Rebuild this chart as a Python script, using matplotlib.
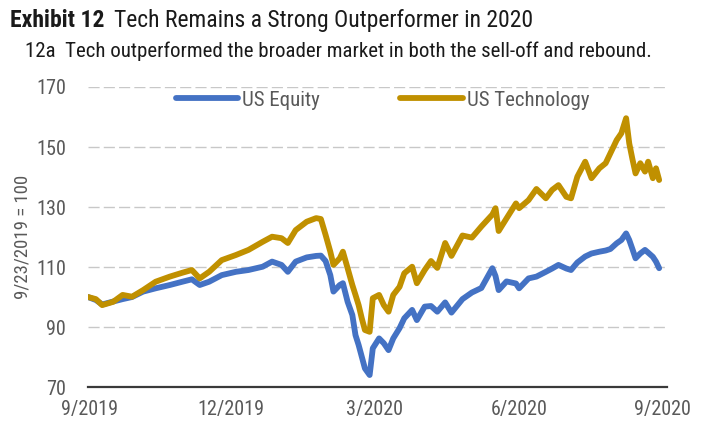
import matplotlib
matplotlib.use("Agg")
import matplotlib.pyplot as plt
import pandas as pd
from matplotlib import font_manager as fm

# ---------------- data ----------------
dates = [
    "2019-09-23", "2019-09-28", "2019-10-02", "2019-10-09", "2019-10-15", "2019-10-21",
    "2019-10-28", "2019-11-05", "2019-11-14", "2019-11-22", "2019-11-28", "2019-12-03",
    "2019-12-09", "2019-12-17", "2019-12-26", "2020-01-03", "2020-01-12", "2020-01-18",
    "2020-01-24", "2020-01-28", "2020-02-02", "2020-02-09", "2020-02-15", "2020-02-18",
    "2020-02-21", "2020-02-24", "2020-02-26", "2020-03-01", "2020-03-03", "2020-03-06",
    "2020-03-09", "2020-03-11", "2020-03-13", "2020-03-15", "2020-03-17", "2020-03-20",
    "2020-03-22", "2020-03-26", "2020-03-29", "2020-04-01", "2020-04-04", "2020-04-08",
    "2020-04-11", "2020-04-16", "2020-04-19", "2020-04-24", "2020-04-28", "2020-05-02",
    "2020-05-07", "2020-05-11", "2020-05-18", "2020-05-24", "2020-05-30", "2020-06-06",
    "2020-06-08", "2020-06-10", "2020-06-15", "2020-06-21", "2020-06-23", "2020-06-29",
    "2020-07-04", "2020-07-10", "2020-07-14", "2020-07-18", "2020-07-23", "2020-07-26",
    "2020-07-30", "2020-08-04", "2020-08-08", "2020-08-13", "2020-08-17", "2020-08-20",
    "2020-08-24", "2020-08-27", "2020-08-30", "2020-09-01", "2020-09-03", "2020-09-05",
    "2020-09-08", "2020-09-11", "2020-09-13", "2020-09-16", "2020-09-18", "2020-09-20",
]
us_equity = [
    100.0, 99.0, 97.5, 98.5, 99.3, 100.0,
    101.8, 102.9, 104.0, 105.1, 105.9, 104.0,
    105.1, 107.3, 108.4, 109.0, 110.1, 111.8,
    110.7, 108.4, 111.8, 113.2, 113.7, 113.8,
    112.0, 107.3, 101.8, 104.0, 104.6, 98.4,
    94.0, 87.3, 84.0, 80.1, 76.2, 74.0,
    82.9, 86.2, 84.6, 82.3, 86.2, 89.6,
    92.9, 95.7, 92.3, 96.8, 97.0, 95.1,
    98.2, 94.8, 99.3, 101.5, 103.0, 109.6,
    107.0, 102.3, 105.2, 104.5, 102.9, 106.2,
    106.8, 108.4, 109.5, 110.7, 109.5, 109.0,
    111.5, 113.5, 114.5, 115.1, 115.5, 116.0,
    117.9, 119.0, 121.2, 119.0, 116.0, 112.9,
    114.5, 115.7, 114.8, 113.4, 111.8, 109.6,
]
us_technology = [
    100.0, 99.3, 97.3, 98.4, 100.7, 100.1,
    102.3, 105.1, 106.8, 108.1, 109.0, 106.2,
    108.4, 112.3, 114.0, 115.7, 118.4, 120.1,
    119.6, 118.0, 122.3, 125.1, 126.3, 126.0,
    120.7, 115.1, 110.7, 112.9, 115.1, 109.6,
    104.0, 100.7, 97.3, 92.9, 89.0, 88.4,
    99.6, 100.7, 97.3, 95.1, 100.7, 103.4,
    107.9, 110.1, 104.6, 109.0, 112.0, 109.7,
    118.0, 113.7, 120.5, 119.8, 123.5, 127.5,
    129.6, 122.0, 126.2, 131.2, 129.6, 132.3,
    136.0, 132.9, 135.7, 137.3, 133.4, 132.9,
    140.1, 145.1, 139.6, 142.9, 144.6, 147.9,
    152.3, 154.6, 159.6, 151.2, 146.0, 141.2,
    144.6, 141.8, 145.1, 139.6, 142.9, 139.0,
]
series_names = ["US Equity", "US Technology"]
x_tick_dates = ["2019-09-24", "2019-12-23", "2020-03-23", "2020-06-23", "2020-09-22"]
x_tick_labels = ["9/2019", "12/2019", "3/2020", "6/2020", "9/2020"]
y_ticks = [70, 90, 110, 130, 150, 170]

title_bold = "Exhibit 12"
title_rest = "Tech Remains a Strong Outperformer in 2020"
subtitle = "12a  Tech outperformed the broader market in both the sell-off and rebound."
y_label = "9/23/2019 = 100"

# ---------------- font choice ----------------
available = {f.name for f in fm.fontManager.ttflist}
font = "DejaVu Sans"
stretch = "normal"
for cand in ["Liberation Sans Narrow", "Arial Narrow", "Roboto Condensed",
             "Open Sans Condensed", "Noto Sans Display"]:
    if cand in available:
        font = cand
        break
else:
    if any(f.name == "DejaVu Sans" and f.stretch == "condensed" for f in fm.fontManager.ttflist):
        stretch = "condensed"
plt.rcParams["font.family"] = [font, "DejaVu Sans"]
plt.rcParams["font.stretch"] = stretch

BLUE = "#4472C4"
GOLD = "#C09000"
GREY = "#595959"

x = pd.to_datetime(dates)

fig = plt.figure(figsize=(7.19, 4.45), dpi=100)
ax = fig.add_axes([0.1224, 0.1303, 0.8053, 0.6742])

ax.plot(x, us_equity, color=BLUE, lw=4.2, solid_joinstyle="round",
        solid_capstyle="round", label=series_names[0], zorder=3)
ax.plot(x, us_technology, color=GOLD, lw=4.2, solid_joinstyle="round",
        solid_capstyle="round", label=series_names[1], zorder=4)

ax.set_ylim(y_ticks[0], y_ticks[-1])
ax.set_xlim(pd.Timestamp("2019-09-23"), pd.Timestamp("2020-09-25"))
ax.set_yticks(y_ticks)
ax.set_xticks(pd.to_datetime(x_tick_dates))
ax.set_xticklabels(x_tick_labels)

ax.yaxis.grid(True, color="#C8C8C8", lw=1.0, ls=(0, (8, 3)), zorder=0)
ax.xaxis.grid(False)
for s in ["top", "right", "left"]:
    ax.spines[s].set_visible(False)
ax.spines["bottom"].set_color("#3A3A3A")
ax.spines["bottom"].set_linewidth(1.6)
ax.spines["bottom"].set_zorder(5)

ax.tick_params(axis="both", length=0, labelcolor=GREY, labelsize=14.5)
ax.tick_params(axis="x", pad=9)
ax.tick_params(axis="y", pad=16)
ax.set_ylabel(y_label, color=GREY, fontsize=13.5, labelpad=3)

leg = ax.legend(loc="upper center", bbox_to_anchor=(0.509, 1.05), ncol=2,
                frameon=False, handlelength=3.0, columnspacing=3.85,
                handletextpad=0.2, fontsize=15)
for t in leg.get_texts():
    t.set_color(GREY)

# title with bold prefix
t1 = fig.text(0.014, 0.94, title_bold, fontsize=17, fontweight="bold", color="#1A1A1A")
fig.canvas.draw()
bb = t1.get_window_extent()
x_next = (bb.x1 + 9) / fig.bbox.width
fig.text(x_next, 0.94, title_rest, fontsize=17, color="#1A1A1A")
fig.text(0.035, 0.872, subtitle, fontsize=15, color="#1A1A1A")

fig.savefig("out.png", dpi=100)
